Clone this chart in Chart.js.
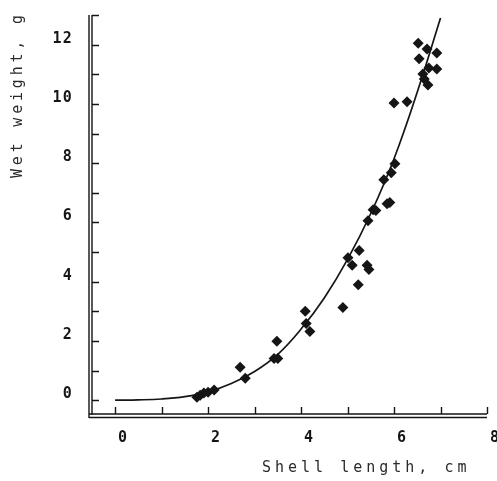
<!DOCTYPE html>
<html>
<head>
<meta charset="utf-8">
<script src="https://cdn.jsdelivr.net/npm/chart.js@4/dist/chart.umd.min.js"></script>
<style>
  html, body { margin: 0; padding: 0; background: #fff; }
  canvas { display: block; }
</style>
</head>
<body>
<canvas id="chart" width="497" height="481"></canvas>
<script>
// Measured animals: shell length (cm) and wet weight (g)
const lengthCm = [1.76, 1.83, 1.91, 2.00, 2.13, 2.69, 2.80, 3.42, 3.50, 3.48,
    4.09, 4.11, 4.19, 4.90, 5.01, 5.10, 5.42, 5.46, 5.23, 5.25,
    5.44, 5.55, 5.61, 5.85, 5.91, 5.78, 5.94, 6.02, 6.00, 6.28,
    6.52, 6.71, 6.92, 6.54, 6.62, 6.65, 6.75, 6.92, 6.73];
const weightG = [0.10, 0.17, 0.24, 0.27, 0.34, 1.11, 0.74, 1.41, 1.41, 1.99,
    3.00, 2.59, 2.32, 3.13, 4.81, 4.55, 4.55, 4.41, 3.90, 5.05,
    6.06, 6.43, 6.40, 6.63, 6.67, 7.44, 7.68, 7.98, 10.03, 10.07,
    12.05, 11.85, 11.72, 11.52, 11.01, 10.84, 11.21, 11.18, 10.64];

// Fitted curve
const fitLength = [0, 0.5, 1, 1.5, 2, 2.5, 3, 3.5, 4, 4.5, 5, 5.5, 6, 6.5, 7];
const fitWeight = [0, 0.01, 0.04, 0.12, 0.28, 0.56, 0.97, 1.55, 2.4, 3.45, 4.75, 6.3, 8.15, 10.4, 12.9];

// Axis ticks and labels
const xTicks = [0, 1, 2, 3, 4, 5, 6, 7, 8];
const yTicks = [0, 1, 2, 3, 4, 5, 6, 7, 8, 9, 10, 11, 12, 13];
const xLabels = [0, 2, 4, 6, 8];
const yLabels = [0, 2, 4, 6, 8, 10, 12];
const xTitle = 'Shell length, cm';
const yTitle = 'Wet weight, g';

const INK = '#151515';

// Old plotter look: double axis lines, inward ticks, wide-spaced titles
const plotterAxes = {
    id: 'plotterAxes',
    beforeUpdate(chart) {
        chart.ctx.letterSpacing = '1.2px';
    },
    afterDraw(chart) {
        const ctx = chart.ctx;
        const x = chart.scales.x;
        const y = chart.scales.y;
        const area = chart.chartArea;
        ctx.save();
        ctx.strokeStyle = INK;
        ctx.lineWidth = 1.4;
        ctx.beginPath();
        // y axis (double)
        ctx.moveTo(area.left - 1, area.top);
        ctx.lineTo(area.left - 1, area.bottom + 3);
        ctx.moveTo(area.left + 2, area.top);
        ctx.lineTo(area.left + 2, area.bottom);
        // x axis (double)
        ctx.moveTo(area.left - 1, area.bottom - 1);
        ctx.lineTo(area.right, area.bottom - 1);
        ctx.moveTo(area.left - 1, area.bottom + 2.5);
        ctx.lineTo(area.right, area.bottom + 2.5);
        // inward ticks
        yTicks.forEach(v => {
            const py = Math.round(y.getPixelForValue(v)) + 0.5;
            ctx.moveTo(area.left + 2, py);
            ctx.lineTo(area.left + 9, py);
        });
        xTicks.forEach(v => {
            const px = Math.round(x.getPixelForValue(v)) + 0.5;
            ctx.moveTo(px, area.bottom - 1);
            ctx.lineTo(px, area.bottom - 8);
        });
        ctx.stroke();

        // titles
        ctx.fillStyle = '#2a2a2a';
        ctx.textBaseline = 'middle';
        ctx.textAlign = 'left';
        ctx.font = '15px "DejaVu Sans Mono"';
        ctx.letterSpacing = '4px';
        ctx.fillText(xTitle, 262, 468);

        ctx.font = '15px "DejaVu Sans Mono"';
        ctx.letterSpacing = '3.8px';
        ctx.translate(18, 178);
        ctx.rotate(-Math.PI / 2);
        ctx.fillText(yTitle, 0, 0);
        ctx.restore();
    }
};

const tickFont = { family: 'DejaVu Sans Mono', size: 15, weight: 'bold' };

new Chart(document.getElementById('chart'), {
    type: 'scatter',
    data: {
        datasets: [
            {
                label: 'Fit',
                data: fitLength.map((v, i) => ({ x: v, y: fitWeight[i] })),
                showLine: true,
                borderColor: INK,
                borderWidth: 1.7,
                pointRadius: 0,
                tension: 0.4
            },
            {
                label: 'Measured',
                data: lengthCm.map((v, i) => ({ x: v, y: weightG[i] })),
                pointStyle: 'rectRot',
                pointRadius: 5.5,
                pointBorderWidth: 0,
                backgroundColor: INK,
                borderColor: INK
            }
        ]
    },
    options: {
        responsive: false,
        animation: false,
        layout: { padding: { top: 15, right: 10, left: 0, bottom: 0 } },
        plugins: {
            legend: { display: false },
            tooltip: { enabled: false }
        },
        scales: {
            x: {
                type: 'linear',
                min: -0.54,
                max: 8,
                grid: { display: false, drawTicks: false },
                border: { display: false },
                afterBuildTicks: s => { s.ticks = xTicks.map(v => ({ value: v })); },
                afterFit: s => { s.height = 66; s.paddingLeft = 0; s.paddingRight = 0; },
                ticks: {
                    autoSkip: false,
                    maxRotation: 0,
                    padding: 14,
                    labelOffset: 8,
                    color: INK,
                    font: tickFont,
                    callback: v => xLabels.includes(v) ? String(v) : ''
                }
            },
            y: {
                type: 'linear',
                min: -0.5,
                max: 13,
                grid: { display: false, drawTicks: false },
                border: { display: false },
                afterBuildTicks: s => { s.ticks = yTicks.map(v => ({ value: v })); },
                afterFit: s => { s.width = 90; s.paddingTop = 0; s.paddingBottom = 0; },
                ticks: {
                    autoSkip: false,
                    padding: 17,
                    labelOffset: -6,
                    color: INK,
                    font: tickFont,
                    callback: v => yLabels.includes(v) ? String(v) : ''
                }
            }
        }
    },
    plugins: [plotterAxes]
});
</script>
</body>
</html>
